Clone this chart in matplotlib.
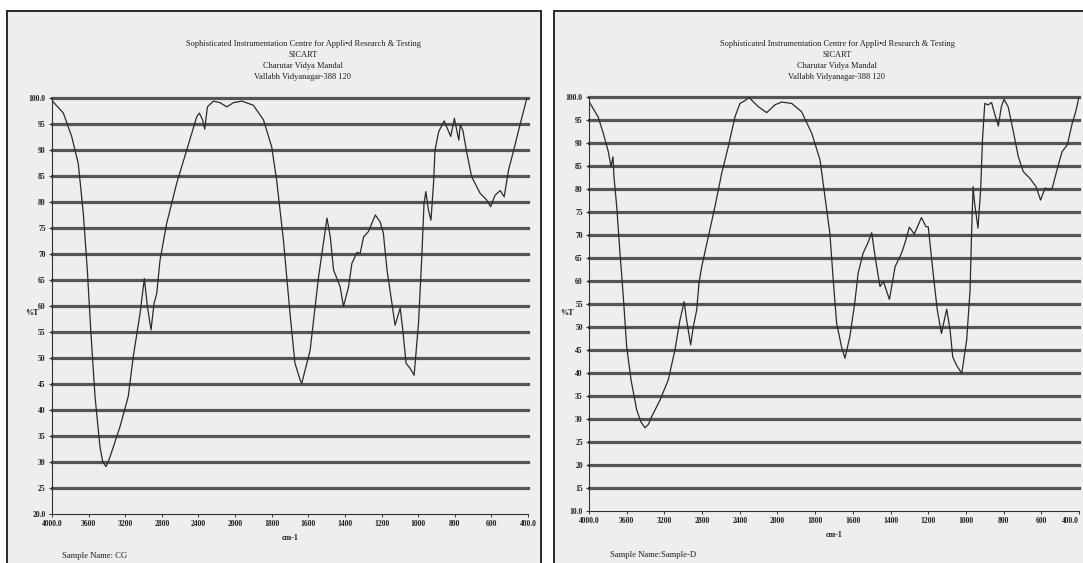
import numpy as np
import matplotlib
matplotlib.use("Agg")
import matplotlib.pyplot as plt
from matplotlib.patches import Rectangle

# --- spectrum CG (left) : wavenumber (cm-1), %T ---
cg_wn = [4000, 3876, 3785, 3713, 3658, 3614, 3577, 3530, 3476, 3445, 3410, 3380, 3330, 3257,
         3167, 3112, 3038, 2991, 2958, 2918, 2885, 2856, 2820, 2747, 2638, 2528,
         2419, 2390, 2355, 2332, 2302, 2237, 2164, 2091, 2018, 1963, 1900, 1845,
         1800, 1773, 1736, 1700, 1673, 1645, 1636, 1590, 1544, 1498, 1480, 1462,
         1444, 1426, 1408, 1380, 1362, 1334, 1317, 1298, 1272, 1234, 1208, 1190,
         1170, 1154, 1126, 1098, 1084, 1066, 1044, 1022, 998, 980, 968, 958, 944,
         930, 916, 908, 888, 858, 822, 802, 784, 778, 770, 756, 734, 708, 662, 626,
         604, 580, 552, 530, 506, 480, 442, 406]
cg_t = [99.5, 97.1, 92.6, 87.4, 77.8, 66.9, 55.4, 42.6, 32.9, 30.0, 29.1, 30.3, 32.9, 36.8,
        42.6, 50.3, 58.6, 65.3, 59.9, 55.4, 60.5, 62.4, 68.8, 75.9, 83.6, 90.0,
        96.4, 97.1, 95.8, 94.0, 98.3, 99.4, 99.1, 98.3, 99.1, 99.4, 98.6, 95.8,
        90.6, 84.2, 72.7, 58.6, 49.0, 45.8, 45.1, 51.5, 65.6, 76.9, 73.3, 66.9,
        65.3, 63.7, 59.9, 63.7, 68.2, 70.3, 70.1, 73.3, 74.3, 77.5, 76.2, 74.0,
        66.9, 63.1, 56.3, 59.6, 55.4, 49.0, 48.0, 46.7, 56.7, 69.5, 79.7, 82.0, 78.5,
        76.5, 83.6, 90.0, 93.5, 95.6, 92.6, 96.1, 92.9, 91.9, 94.8, 93.8, 89.4, 84.9,
        81.7, 80.4, 79.1, 81.3, 82.2, 81.0, 86.2, 89.7, 95.1, 100.0]

# --- spectrum Sample-D (right) ---
sd_wn = [4000, 3904, 3848, 3795, 3767, 3745, 3735, 3706, 3671, 3636, 3600, 3554,
         3494, 3450, 3406, 3370, 3335, 3247, 3159, 3088, 3035, 2990, 2964, 2921, 2893, 2857,
         2833, 2804, 2734, 2663, 2592, 2522, 2451, 2398, 2345, 2302, 2204, 2115,
         2027, 1978, 1924, 1872, 1818, 1774, 1748, 1722, 1704, 1686, 1660, 1642,
         1616, 1590, 1572, 1546, 1518, 1500, 1482, 1456, 1438, 1406, 1376, 1342,
         1324, 1300, 1274, 1236, 1212, 1200, 1174, 1152, 1130, 1102, 1084, 1070,
         1050, 1022, 996, 978, 970, 962, 954, 936, 922, 912, 900, 882, 864, 846,
         828, 812, 798, 776, 750, 722, 696, 660, 628, 604, 580, 554, 542, 512, 490,
         462, 436, 418, 400]
sd_t = [99.0, 95.7, 92.1, 88.1, 84.9, 87.0, 82.7, 76.2, 66.0, 56.6, 45.7, 38.5,
        32.0, 29.4, 28.1, 28.8, 30.5, 34.1, 38.5, 45.0, 51.5, 55.5, 51.5, 46.1, 50.1, 53.7,
        59.5, 63.1, 69.6, 76.2, 83.4, 89.2, 95.7, 98.6, 99.2, 99.9, 97.9, 96.6,
        98.3, 98.9, 98.6, 96.8, 92.1, 86.3, 78.3, 70.4, 60.2, 50.8, 45.7, 43.2,
        47.9, 55.2, 61.7, 66.0, 68.5, 70.5, 65.3, 58.8, 59.9, 56.0, 63.1, 66.0,
        68.2, 71.7, 70.2, 73.8, 71.8, 71.8, 61.7, 53.7, 48.6, 53.9, 49.3, 43.5,
        41.7, 39.9, 47.2, 58.0, 70.4, 80.5, 76.9, 71.5, 79.8, 90.7, 98.6, 98.3, 98.8, 96.1,
        93.7, 97.9, 99.5, 97.9, 92.8, 87.0, 83.8, 82.3, 80.5, 77.6, 80.2, 79.9, 80.2, 84.9, 88.1,
        89.6, 94.3, 96.7, 100.0]

x_ticks = [4000, 3600, 3200, 2800, 2400, 2000, 1800, 1600, 1400, 1200, 1000, 800, 600, 400]
x_labels = ["4000.0"] + [str(v) for v in x_ticks[1:-1]] + ["400.0"]

header = ["Sophisticated Instrumentation Centre for Appli\u2022d Research & Testing",
          "SICART", "Charutar Vidya Mandal", "Vallabh Vidyanagar-388 120"]

W, H = 1083, 563
SERIF = ["Liberation Serif", "DejaVu Serif"]
INK = "#1e1e1e"


def fx(px):
    return px / W


def fy(py):
    return 1 - py / H


# spectrometer scale: 400 cm-1 per division above 2000, 200 below
def fwd(x):
    x = np.asarray(x, dtype=float)
    return np.where(x > 2000, 2000 + (x - 2000) / 2, x)


def inv(y):
    y = np.asarray(y, dtype=float)
    return np.where(y > 2000, 2000 + (y - 2000) * 2, y)


fig = plt.figure(figsize=(W / 100, H / 100), dpi=100)
fig.patch.set_facecolor("white")

# paper frames
for x0, x1 in [(7, 541), (554, 1090)]:
    fig.add_artist(Rectangle((fx(x0), fy(575)), fx(x1) - fx(x0), fy(11) - fy(575),
                             transform=fig.transFigure, facecolor="#eeeeee",
                             edgecolor="#2a2a2a", linewidth=1.4, zorder=0))


def panel(rect, wn, t, ymin, title_cx, sample, ylab_px, last_right=False):
    ax = fig.add_axes(rect)
    ax.patch.set_alpha(0)
    ax.set_xscale("function", functions=(fwd, inv))
    ax.set_xlim(4000, 400)
    ax.set_ylim(ymin, 100)
    for v in range(ymin + 5, 101, 5):
        ax.axhline(v, color="#555555", lw=2.3, clip_on=False, zorder=1)
    ax.plot(wn, t, color="#2b2b2b", lw=0.9, zorder=3)
    for s in ["top", "right"]:
        ax.spines[s].set_visible(False)
    for s in ["left", "bottom"]:
        ax.spines[s].set_color("#333333")
        ax.spines[s].set_linewidth(0.8)
    yt = list(range(ymin, 101, 5))
    ylabs = [f"{ymin}.0"] + [str(v) for v in yt[1:-1]] + ["100.0"]
    ax.set_yticks(yt)
    ax.set_yticklabels(ylabs)
    ax.set_xticks(x_ticks)
    ax.set_xticklabels(x_labels)
    ax.minorticks_off()
    ax.tick_params(length=2.5, width=0.7, color="#333333", pad=2,
                   labelsize=5.5, labelcolor=INK)
    for lab in ax.get_xticklabels() + ax.get_yticklabels():
        lab.set_family(SERIF)
        lab.set_fontweight("bold")
    if last_right:
        ax.get_xticklabels()[-1].set_horizontalalignment("right")
    ax.set_xlabel("cm-1", fontsize=5.8, family=SERIF, fontweight="bold", color=INK, labelpad=4)
    for i, line in enumerate(header):
        fig.text(fx(title_cx), fy(44 + 11 * i), line, ha="center", va="center",
                 fontsize=6.0, family=SERIF, color=INK)
    fig.text(fx(ylab_px[0]), fy(ylab_px[1]), "%T", ha="center", va="center",
             fontsize=5.8, family=SERIF, fontweight="bold", color=INK)
    fig.text(fx(sample[0]), fy(sample[1]), sample[2], ha="left", va="center",
             fontsize=6.2, family=SERIF, color=INK)
    return ax


panel([fx(52), fy(514), fx(528) - fx(52), fy(98) - fy(514)], cg_wn, cg_t, 20,
      303, (62, 556, "Sample Name: CG"), (32, 313))
panel([fx(589), fy(511), fx(1079) - fx(589), fy(97) - fy(511)], sd_wn, sd_t, 10,
      837, (610, 555, "Sample Name:Sample-D"), (567, 313), last_right=True)

fig.savefig("out.png", dpi=100, facecolor="white")
